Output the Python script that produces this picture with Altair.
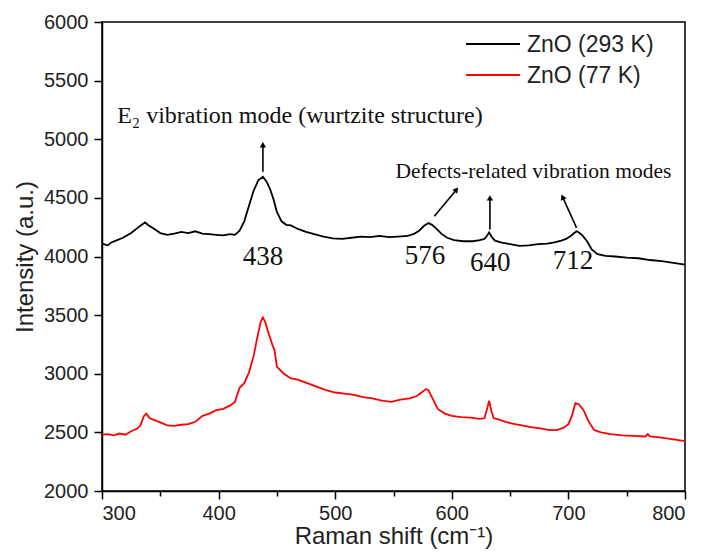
import altair as alt
import pandas as pd

# ---- data ----
x_293 = [300, 305, 308, 312, 318, 325, 330, 334, 337, 340, 344, 350, 356, 362, 368, 374, 380, 386, 392, 398,
         404, 410, 414, 418, 422, 426, 430, 434, 438, 441, 444, 447, 450, 454, 458, 462, 468, 475, 482, 490,
         498, 506, 514, 522, 530, 538, 546, 554, 562, 568, 572, 576, 580, 583, 587, 591, 596, 602, 610, 618,
         624, 628, 630, 632, 634, 637, 642, 650, 658, 666, 674, 682, 688, 694, 698, 702, 705, 707, 709, 712,
         716, 720, 725, 732, 740, 750, 760, 770, 780, 790, 800]
y_293 = [4110, 4095, 4120, 4135, 4160, 4200, 4240, 4270, 4290, 4265, 4240, 4200, 4185, 4195, 4210, 4200, 4215, 4195, 4190, 4185,
         4180, 4190, 4185, 4220, 4300, 4430, 4560, 4650, 4680, 4640, 4580, 4490, 4380, 4300, 4270, 4265, 4235, 4210, 4190, 4170,
         4155, 4150, 4160, 4170, 4165, 4175, 4165, 4170, 4175, 4195, 4220, 4260, 4285, 4270, 4235, 4195, 4160, 4140, 4130, 4130,
         4140, 4150, 4175, 4205, 4170, 4135, 4120, 4105, 4090, 4095, 4105, 4110, 4120, 4135, 4150, 4175, 4200, 4215, 4205, 4180,
         4130, 4060, 4020, 4005, 4000, 3990, 3985, 3970, 3960, 3945, 3930]

x_77 = [300, 305, 310, 315, 320, 325, 330, 333, 336, 338, 341, 345, 350, 356, 362, 368, 374, 380, 386, 392,
        398, 404, 410, 414, 418, 422, 426, 430, 433, 436, 438, 440, 443, 446, 448, 450, 452, 456, 462, 468,
        476, 484, 492, 500, 508, 516, 524, 532, 540, 548, 556, 564, 570, 574, 578, 580, 584, 588, 594, 600,
        608, 616, 624, 628, 630, 632, 634, 636, 640, 646, 652, 660, 668, 676, 684, 690, 696, 700, 703, 706,
        709, 713, 717, 722, 728, 736, 746, 756, 766, 768, 770, 780, 790, 800]
y_77 = [2480, 2485, 2475, 2490, 2480, 2510, 2530, 2560, 2640, 2660, 2620, 2605, 2585, 2560, 2555, 2565, 2570, 2590, 2640, 2660,
        2690, 2700, 2730, 2760, 2880, 2920, 3010, 3150, 3300, 3440, 3480, 3440, 3340, 3250, 3200, 3060, 3040, 3000, 2960, 2950,
        2920, 2890, 2860, 2840, 2830, 2820, 2800, 2790, 2770, 2760, 2780, 2790, 2810, 2840, 2870, 2860, 2780, 2700, 2660, 2640,
        2630, 2625, 2615, 2620, 2690, 2770, 2680, 2620, 2610, 2590, 2575, 2560, 2545, 2535, 2520, 2520, 2540, 2570, 2640, 2750,
        2740, 2690, 2600, 2520, 2500, 2485, 2475, 2470, 2465, 2485, 2465, 2455, 2440, 2425]

series_names = ["ZnO (293 K)", "ZnO (77 K)"]
series_colors = ["black", "red"]

# peak labels
peak_labels = ["438", "576", "640", "712"]
peak_label_x = [438, 577, 633, 704]
peak_label_y = [4000, 4003, 3946, 3960]

# arrows (tail -> head)
arrow_x0 = [438, 585, 632.7, 707]
arrow_y0 = [4723, 4343, 4230, 4244]
arrow_x1 = [438, 604, 632.7, 695]
arrow_y1 = [4953, 4570, 4500, 4508]
arrow_angle = [0, 40, 0, 336]

# annotation texts
ann_text = ["E\u2082 vibration mode (wurtzite structure)", "Defects-related vibration modes"]
ann_x = [313, 670]
ann_y = [5200, 4723]
ann_align = ["left", "center"]

# ---- frames ----
df = pd.concat([
    pd.DataFrame({"shift": x_293, "intensity": y_293, "series": series_names[0]}),
    pd.DataFrame({"shift": x_77, "intensity": y_77, "series": series_names[1]}),
])
df_peaks = pd.DataFrame({"label": peak_labels, "x": peak_label_x, "y": peak_label_y})
df_arrows = pd.DataFrame({"x0": arrow_x0, "y0": arrow_y0, "x1": arrow_x1, "y1": arrow_y1, "angle": arrow_angle})
df_ann = pd.DataFrame({"text": ann_text, "x": ann_x, "y": ann_y, "align": ann_align})
df_leg = pd.DataFrame({"series": series_names, "row": [0, 1]})

xscale = alt.Scale(domain=[300, 800], nice=False, zero=False)
yscale = alt.Scale(domain=[2000, 6000], nice=False, zero=False)
cscale = alt.Scale(domain=series_names, range=series_colors)

x_axis = alt.Axis(
    title="Raman shift (cm\u207b\u00b9)",
    values=list(range(300, 801, 50)),
    labelExpr="datum.value % 100 == 0 ? datum.label : ''",
    tickSize={"condition": {"test": "datum.value % 100 == 0", "value": 8}, "value": 5},
    grid=False, domainColor="black", tickColor="black", domainWidth=1.5, tickWidth=1.5,
    labelFont="Liberation Sans", labelFontSize=20, labelColor="#222", labelPadding=4,
    titleFont="Liberation Sans", titleFontSize=24, titleFontWeight="normal", titleColor="#222",
    titlePadding=1,
)
y_axis = alt.Axis(
    title="Intensity (a.u.)",
    values=list(range(2000, 6001, 250)),
    labelExpr="datum.value % 500 == 0 ? datum.label : ''",
    format="d",
    tickSize={"condition": {"test": "datum.value % 500 == 0", "value": 8}, "value": 5},
    grid=False, domainColor="black", tickColor="black", domainWidth=1.5, tickWidth=1.5,
    labelFont="Liberation Sans", labelFontSize=20, labelColor="#222", labelPadding=6,
    titleFont="Liberation Sans", titleFontSize=24, titleFontWeight="normal", titleColor="#222",
    titlePadding=6,
)

lines = alt.Chart(df).mark_line(strokeWidth=1.8).encode(
    x=alt.X("shift:Q", scale=xscale, axis=x_axis),
    y=alt.Y("intensity:Q", scale=yscale, axis=y_axis),
    color=alt.Color("series:N", scale=cscale, legend=None),
    order=alt.Order("shift:Q"),
)

# manual legend (positions in pixels of the plot area)
leg_lines = alt.Chart(df_leg).mark_rule(strokeWidth=1.8).encode(
    x=alt.value(364), x2=alt.value(418),
    y=alt.Y("row:Q", scale=alt.Scale(domain=[0, 1], range=[22, 53]), axis=None),
    color=alt.Color("series:N", scale=cscale, legend=None),
)
leg_text = alt.Chart(df_leg).mark_text(align="left", baseline="middle", font="Liberation Sans",
                                       fontSize=23, color="#222").encode(
    x=alt.value(425),
    y=alt.Y("row:Q", scale=alt.Scale(domain=[0, 1], range=[23, 54]), axis=None),
    text="series:N",
)

peaks = alt.Chart(df_peaks).mark_text(font="Liberation Serif", fontSize=27, color="#111").encode(
    x=alt.X("x:Q", scale=xscale), y=alt.Y("y:Q", scale=yscale), text="label:N")

arrow_lines = alt.Chart(df_arrows).mark_rule(strokeWidth=1.6, color="black").encode(
    x=alt.X("x0:Q", scale=xscale), y=alt.Y("y0:Q", scale=yscale), x2="x1:Q", y2="y1:Q")

arrow_heads = alt.Chart(df_arrows).mark_point(shape="triangle-up", filled=True, color="black",
                                              size=40, opacity=1).encode(
    x=alt.X("x1:Q", scale=xscale), y=alt.Y("y1:Q", scale=yscale),
    angle=alt.Angle("angle:Q", scale=None))

ann_left = alt.Chart(df_ann[df_ann["align"] == "left"]).mark_text(
    font="Liberation Serif", fontSize=24, color="#111", align="left").encode(
    x=alt.X("x:Q", scale=xscale), y=alt.Y("y:Q", scale=yscale), text="text:N")
ann_center = alt.Chart(df_ann[df_ann["align"] == "center"]).mark_text(
    font="Liberation Serif", fontSize=21.5, color="#111", align="center").encode(
    x=alt.X("x:Q", scale=xscale), y=alt.Y("y:Q", scale=yscale), text="text:N")

main = alt.layer(lines, arrow_lines, arrow_heads, peaks, ann_left, ann_center)
legend = alt.layer(leg_lines, leg_text).resolve_scale(y="independent")

chart = alt.layer(main, legend).resolve_scale(y="independent").properties(
    width=583, height=469,
    autosize=alt.AutoSizeParams(type="none"),
    padding={"left": 102, "top": 22, "right": 20, "bottom": 63},
    background="white",
).configure_view(stroke="black", strokeWidth=1.5)

chart.save("out.html", embed_options={"renderer": "svg", "actions": False})
